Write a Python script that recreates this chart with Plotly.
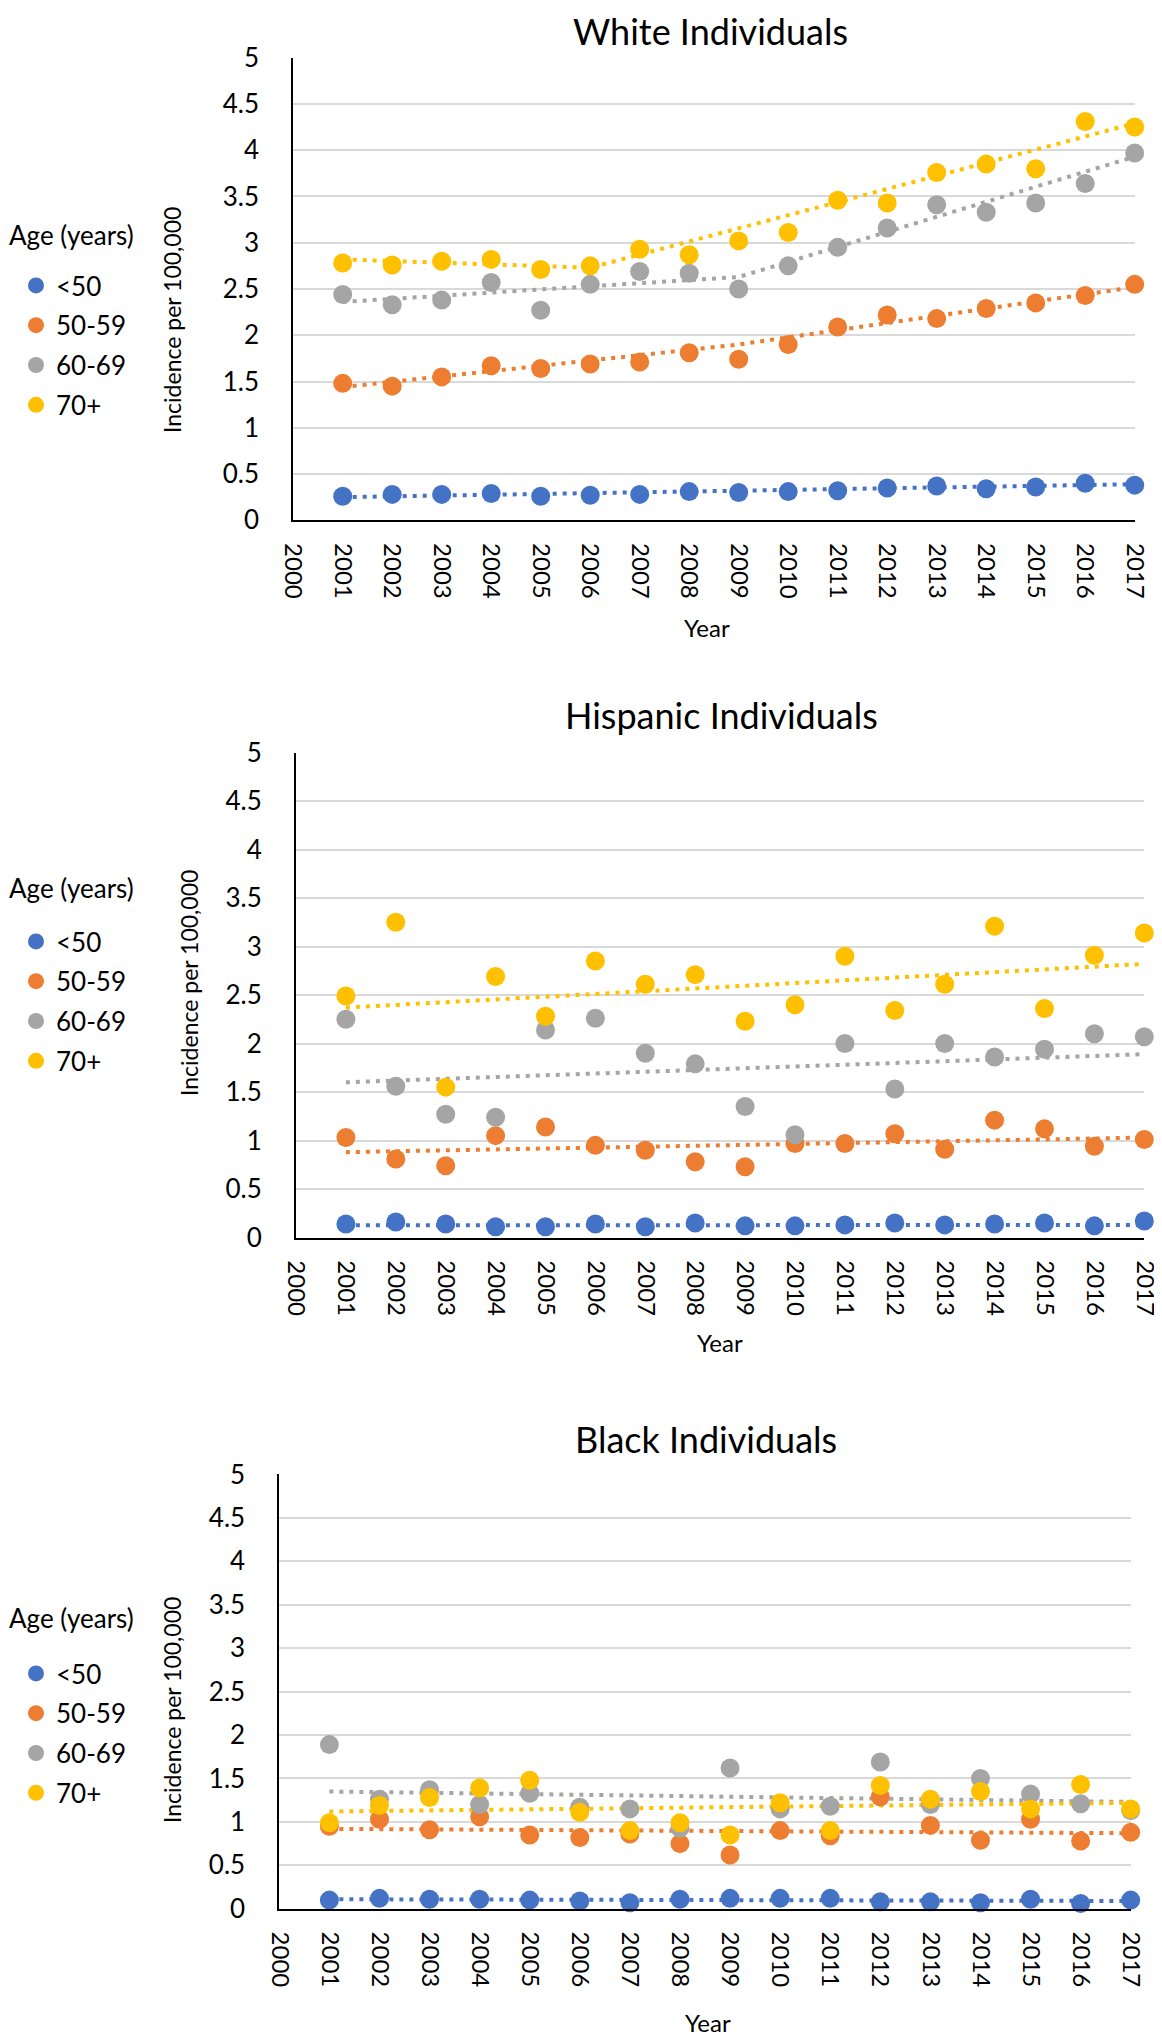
import plotly.graph_objects as go

# page is 1162x2040 but the browser body keeps an 8px margin
PAGE_W, PAGE_H, OFF = 1162, 2040, 8
W, H = PAGE_W - OFF, PAGE_H - OFF
FONT = "Lato, 'Open Sans', sans-serif"

years = list(range(2001, 2018))
ages = ["<50", "50-59", "60-69", "70+"]
colors = ["#4472C4", "#ED7D31", "#A5A5A5", "#FFC000"]

# White individuals
white_lt50 = [0.26, 0.28, 0.28, 0.29, 0.26, 0.27, 0.28, 0.31, 0.30, 0.31, 0.32, 0.35, 0.37, 0.34, 0.36, 0.40, 0.38]
white_50_59 = [1.48, 1.45, 1.55, 1.67, 1.64, 1.69, 1.71, 1.81, 1.74, 1.90, 2.09, 2.22, 2.18, 2.29, 2.35, 2.43, 2.55]
white_60_69 = [2.44, 2.33, 2.38, 2.57, 2.27, 2.55, 2.69, 2.67, 2.50, 2.75, 2.95, 3.16, 3.41, 3.33, 3.43, 3.64, 3.97]
white_70p = [2.78, 2.76, 2.80, 2.82, 2.71, 2.75, 2.93, 2.87, 3.02, 3.11, 3.46, 3.43, 3.76, 3.85, 3.80, 4.31, 4.25]

# Hispanic individuals
hisp_lt50 = [0.14, 0.16, 0.14, 0.11, 0.11, 0.14, 0.11, 0.15, 0.12, 0.12, 0.13, 0.15, 0.13, 0.14, 0.15, 0.12, 0.17]
hisp_50_59 = [1.03, 0.81, 0.74, 1.05, 1.14, 0.95, 0.90, 0.78, 0.73, 0.97, 0.97, 1.07, 0.91, 1.21, 1.12, 0.94, 1.01]
hisp_60_69 = [2.25, 1.56, 1.27, 1.24, 2.14, 2.26, 1.90, 1.79, 1.35, 1.06, 2.00, 1.53, 2.00, 1.86, 1.94, 2.10, 2.07]
hisp_70p = [2.49, 3.25, 1.55, 2.69, 2.28, 2.85, 2.61, 2.71, 2.23, 2.40, 2.90, 2.34, 2.61, 3.21, 2.36, 2.91, 3.14]

# Black individuals
black_lt50 = [0.10, 0.12, 0.11, 0.11, 0.10, 0.09, 0.07, 0.11, 0.12, 0.12, 0.12, 0.08, 0.08, 0.07, 0.11, 0.06, 0.10]
black_50_59 = [0.95, 1.03, 0.91, 1.06, 0.85, 0.82, 0.86, 0.75, 0.62, 0.90, 0.84, 1.29, 0.96, 0.79, 1.03, 0.78, 0.88]
black_60_69 = [1.89, 1.26, 1.37, 1.20, 1.33, 1.17, 1.15, 0.93, 1.62, 1.15, 1.18, 1.69, 1.20, 1.50, 1.32, 1.21, 1.13]
black_70p = [0.99, 1.19, 1.28, 1.39, 1.48, 1.11, 0.90, 0.99, 0.85, 1.22, 0.90, 1.42, 1.26, 1.35, 1.15, 1.43, 1.15]

# trend lines (knot years / values)
white_trend_x = [[2001, 2017], [2001, 2009, 2017], [2001, 2009, 2017], [2001, 2006, 2017]]
white_trend_y = [[0.25, 0.39], [1.44, 1.90, 2.52], [2.36, 2.63, 3.93], [2.82, 2.73, 4.29]]
hisp_trend_x = [[2001, 2017]] * 4
hisp_trend_y = [[0.125, 0.13], [0.88, 1.03], [1.60, 1.89], [2.37, 2.82]]
black_trend_x = [[2001, 2017]] * 4
black_trend_y = [[0.11, 0.09], [0.92, 0.87], [1.35, 1.23], [1.12, 1.22]]

y_ticks = [0, 0.5, 1, 1.5, 2, 2.5, 3, 3.5, 4, 4.5, 5]
x_ticks = list(range(2000, 2018))

# positions below are page pixels
panels = [
    dict(title="White Individuals",
         series=[white_lt50, white_50_59, white_60_69, white_70p],
         tx=white_trend_x, ty=white_trend_y,
         xpx=(293.2, 1134.7), ypx=(520.3, 57.7),
         title_at=(710, 31), ytitle_at=(172, 320), year_at=(707, 627),
         legend_title_at=(71, 235), legend_top=262),
    dict(title="Hispanic Individuals",
         series=[hisp_lt50, hisp_50_59, hisp_60_69, hisp_70p],
         tx=hisp_trend_x, ty=hisp_trend_y,
         xpx=(296.0, 1144.3), ypx=(1237.5, 752.5),
         title_at=(721, 715), ytitle_at=(189, 983), year_at=(720, 1342),
         legend_title_at=(71, 888), legend_top=918),
    dict(title="Black Individuals",
         series=[black_lt50, black_50_59, black_60_69, black_70p],
         tx=black_trend_x, ty=black_trend_y,
         xpx=(279.3, 1130.7), ypx=(1908.8, 1474.4),
         title_at=(706, 1439), ytitle_at=(172, 1710), year_at=(708, 2022),
         legend_title_at=(71, 1618), legend_top=1650),
]


def px(x, y):
    return (x - OFF) / W, 1 - (y - OFF) / H


fig = go.Figure()
layout = dict(annotations=[])

for i, p in enumerate(panels):
    n = "" if i == 0 else str(i + 1)
    xa, ya, lg = "x" + n, "y" + n, "legend" + n
    for j, age in enumerate(ages):
        # trend first so markers sit on top
        fig.add_trace(go.Scatter(
            x=p["tx"][j], y=p["ty"][j], mode="lines", xaxis=xa, yaxis=ya,
            line=dict(color=colors[j], width=4, dash="4px,6px"),
            showlegend=False, hoverinfo="skip", cliponaxis=False))
    for j, age in enumerate(ages):
        fig.add_trace(go.Scatter(
            x=years, y=p["series"][j], mode="markers", name=age,
            xaxis=xa, yaxis=ya, legend=lg, legendgroup=f"{i}-{age}",
            marker=dict(color=colors[j], size=19, line=dict(width=0)),
            cliponaxis=False))

    x0, _ = px(p["xpx"][0], 0)
    x1, _ = px(p["xpx"][1], 0)
    _, y0 = px(0, p["ypx"][0])
    _, y1 = px(0, p["ypx"][1])
    layout["xaxis" + n] = dict(
        domain=[x0, x1], anchor=ya, range=[2000, 2017], tickvals=x_ticks,
        tickangle=90, showgrid=False, zeroline=False, showline=True,
        linecolor="black", linewidth=2, ticks="", ticklabelstandoff=16,
        automargin=False,
        tickfont=dict(size=24, color="black", family=FONT))
    layout["yaxis" + n] = dict(
        domain=[y0, y1], anchor=xa, range=[0, 5], tickvals=y_ticks,
        showgrid=True, gridcolor="#D9D9D9", gridwidth=2, zeroline=False,
        showline=True, linecolor="black", linewidth=2, ticks="",
        ticklabelstandoff=27, automargin=False,
        tickfont=dict(size=26, color="black", family=FONT))
    lx, ly = px(16, p["legend_top"])
    layout[lg] = dict(
        x=lx, y=ly, xanchor="left", yanchor="top",
        font=dict(size=26, color="black", family=FONT),
        bgcolor="rgba(0,0,0,0)", tracegroupgap=3, itemsizing="trace")

    tx, ty = px(*p["legend_title_at"])
    layout["annotations"].append(dict(
        text="Age (years)", x=tx, y=ty, xref="paper", yref="paper",
        xanchor="center", yanchor="middle", showarrow=False,
        font=dict(size=26, color="black", family=FONT)))
    tx, ty = px(*p["title_at"])
    layout["annotations"].append(dict(
        text=p["title"], x=tx, y=ty, xref="paper", yref="paper",
        xanchor="center", yanchor="middle", showarrow=False, borderpad=0,
        font=dict(size=36, color="black", family=FONT)))
    tx, ty = px(*p["ytitle_at"])
    layout["annotations"].append(dict(
        text="Incidence per 100,000", x=tx, y=ty, xref="paper", yref="paper",
        xanchor="center", yanchor="middle", textangle=-90, showarrow=False,
        font=dict(size=23, color="black", family=FONT)))
    tx, ty = px(*p["year_at"])
    layout["annotations"].append(dict(
        text="Year", x=tx, y=ty, xref="paper", yref="paper",
        xanchor="center", yanchor="middle", showarrow=False,
        font=dict(size=24, color="black", family=FONT)))

fig.update_layout(
    width=W, height=H, margin=dict(l=0, r=0, t=0, b=0, pad=0),
    paper_bgcolor="white", plot_bgcolor="white",
    font=dict(family=FONT, color="black"),
    **layout)

fig.write_html("out.html")
